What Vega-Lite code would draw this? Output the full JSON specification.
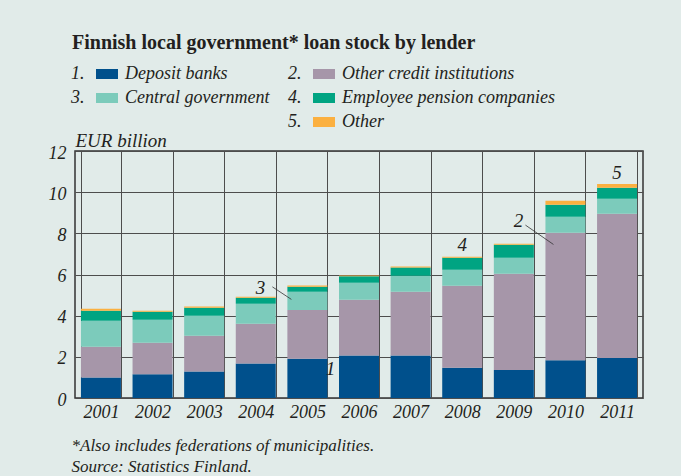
{
  "$schema": "https://vega.github.io/schema/vega-lite/v6.json",
  "autosize": {"type": "none"},
  "width": 568,
  "height": 247,
  "padding": {"left": 75, "top": 151, "right": 38, "bottom": 78},
  "background": "#e1ebe9",
  "title": {
    "text": "Finnish local government* loan stock by lender",
    "anchor": "start",
    "frame": "group",
    "font": "Liberation Serif",
    "fontSize": 20,
    "fontWeight": "bold",
    "color": "#231f20",
    "baseline": "alphabetic",
    "dx": -3,
    "dy": 21,
    "offset": 15
  },
  "config": {
    "view": {"stroke": "#333333", "strokeWidth": 1.5},
    "font": "Liberation Serif",
    "text": {"font": "Liberation Serif"}
  },
  "datasets": {
    "loans": [
      {"year": "2001", "lender": "1. Deposit banks", "value": 1.0},
      {"year": "2001", "lender": "2. Other credit institutions", "value": 1.49},
      {"year": "2001", "lender": "3. Central government", "value": 1.26},
      {"year": "2001", "lender": "4. Employee pension companies", "value": 0.49},
      {"year": "2001", "lender": "5. Other", "value": 0.1},
      {"year": "2002", "lender": "1. Deposit banks", "value": 1.15},
      {"year": "2002", "lender": "2. Other credit institutions", "value": 1.54},
      {"year": "2002", "lender": "3. Central government", "value": 1.11},
      {"year": "2002", "lender": "4. Employee pension companies", "value": 0.39},
      {"year": "2002", "lender": "5. Other", "value": 0.05},
      {"year": "2003", "lender": "1. Deposit banks", "value": 1.29},
      {"year": "2003", "lender": "2. Other credit institutions", "value": 1.74},
      {"year": "2003", "lender": "3. Central government", "value": 0.97},
      {"year": "2003", "lender": "4. Employee pension companies", "value": 0.39},
      {"year": "2003", "lender": "5. Other", "value": 0.05},
      {"year": "2004", "lender": "1. Deposit banks", "value": 1.68},
      {"year": "2004", "lender": "2. Other credit institutions", "value": 1.93},
      {"year": "2004", "lender": "3. Central government", "value": 0.97},
      {"year": "2004", "lender": "4. Employee pension companies", "value": 0.29},
      {"year": "2004", "lender": "5. Other", "value": 0.05},
      {"year": "2005", "lender": "1. Deposit banks", "value": 1.91},
      {"year": "2005", "lender": "2. Other credit institutions", "value": 2.36},
      {"year": "2005", "lender": "3. Central government", "value": 0.89},
      {"year": "2005", "lender": "4. Employee pension companies", "value": 0.24},
      {"year": "2005", "lender": "5. Other", "value": 0.07},
      {"year": "2006", "lender": "1. Deposit banks", "value": 2.06},
      {"year": "2006", "lender": "2. Other credit institutions", "value": 2.71},
      {"year": "2006", "lender": "3. Central government", "value": 0.83},
      {"year": "2006", "lender": "4. Employee pension companies", "value": 0.31},
      {"year": "2006", "lender": "5. Other", "value": 0.04},
      {"year": "2007", "lender": "1. Deposit banks", "value": 2.06},
      {"year": "2007", "lender": "2. Other credit institutions", "value": 3.1},
      {"year": "2007", "lender": "3. Central government", "value": 0.78},
      {"year": "2007", "lender": "4. Employee pension companies", "value": 0.4},
      {"year": "2007", "lender": "5. Other", "value": 0.05},
      {"year": "2008", "lender": "1. Deposit banks", "value": 1.47},
      {"year": "2008", "lender": "2. Other credit institutions", "value": 3.98},
      {"year": "2008", "lender": "3. Central government", "value": 0.78},
      {"year": "2008", "lender": "4. Employee pension companies", "value": 0.58},
      {"year": "2008", "lender": "5. Other", "value": 0.05},
      {"year": "2009", "lender": "1. Deposit banks", "value": 1.36},
      {"year": "2009", "lender": "2. Other credit institutions", "value": 4.68},
      {"year": "2009", "lender": "3. Central government", "value": 0.77},
      {"year": "2009", "lender": "4. Employee pension companies", "value": 0.63},
      {"year": "2009", "lender": "5. Other", "value": 0.05},
      {"year": "2010", "lender": "1. Deposit banks", "value": 1.84},
      {"year": "2010", "lender": "2. Other credit institutions", "value": 6.19},
      {"year": "2010", "lender": "3. Central government", "value": 0.77},
      {"year": "2010", "lender": "4. Employee pension companies", "value": 0.59},
      {"year": "2010", "lender": "5. Other", "value": 0.19},
      {"year": "2011", "lender": "1. Deposit banks", "value": 1.94},
      {"year": "2011", "lender": "2. Other credit institutions", "value": 7.01},
      {"year": "2011", "lender": "3. Central government", "value": 0.73},
      {"year": "2011", "lender": "4. Employee pension companies", "value": 0.53},
      {"year": "2011", "lender": "5. Other", "value": 0.19}
    ],
    "notes": [
      {"label": "1", "year": "2005", "value": 1.41},
      {"label": "3", "year": "2005", "value": 5.34, "from": 5.4, "to": 4.79},
      {"label": "4", "year": "2008", "value": 7.43},
      {"label": "2", "year": "2010", "value": 8.59, "from": 8.4, "to": 7.46},
      {"label": "5", "year": "2011", "value": 10.92}
    ]
  },
  "layer": [
    {
      "data": {"name": "loans"},
      "mark": {"type": "bar", "strokeWidth": 0},
      "encoding": {
        "x": {
          "field": "year",
          "type": "ordinal",
          "scale": {"paddingInner": 0.225, "paddingOuter": 0.115},
          "axis": {
            "title": ["*Also includes federations of municipalities.", "Source: Statistics Finland."],
            "titleAnchor": "start",
            "titleAlign": "left",
            "titleX": -4,
            "titleY": 52,
            "titleBaseline": "alphabetic",
            "titleFont": "Liberation Serif",
            "titleFontSize": 17,
            "titleFontStyle": "italic",
            "titleFontWeight": "normal",
            "titleColor": "#231f20",
            "titleLineHeight": 21,
            "labelAngle": 0,
            "labelFont": "Liberation Serif",
            "labelFontSize": 18,
            "labelFontStyle": "italic",
            "labelColor": "#231f20",
            "labelPadding": 5,
            "domain": false,
            "ticks": false,
            "grid": true,
            "tickBand": "extent",
            "gridColor": "#4d4d4d",
            "gridWidth": 1,
            "gridOpacity": 1
          }
        },
        "y": {
          "field": "value",
          "type": "quantitative",
          "stack": "zero",
          "scale": {"domain": [0, 12], "nice": false},
          "axis": {
            "values": [0, 2, 4, 6, 8, 10, 12],
            "title": "EUR billion",
            "titleAngle": 0,
            "titleAlign": "left",
            "titleAnchor": "start",
            "titleBaseline": "alphabetic",
            "titleX": 0,
            "titleY": -5,
            "titleFont": "Liberation Serif",
            "titleFontSize": 19,
            "titleFontStyle": "italic",
            "titleFontWeight": "normal",
            "titleColor": "#231f20",
            "labelFont": "Liberation Serif",
            "labelFontSize": 18,
            "labelFontStyle": "italic",
            "labelColor": "#231f20",
            "labelPadding": 9,
            "labelOffset": 2,
            "domain": false,
            "ticks": false,
            "grid": true,
            "gridColor": "#4d4d4d",
            "gridWidth": 1,
            "gridOpacity": 1
          }
        },
        "color": {
          "field": "lender",
          "type": "nominal",
          "scale": {
            "domain": ["1. Deposit banks", "2. Other credit institutions", "3. Central government", "4. Employee pension companies", " ", "5. Other"],
            "range": ["#00508c", "#a696a9", "#7ccbbb", "#00a482", "rgba(0,0,0,0)", "#fbb040"]
          },
          "legend": {
            "title": null,
            "orient": "none",
            "legendX": -3,
            "legendY": -88,
            "direction": "horizontal",
            "columns": 2,
            "columnPadding": 18,
            "rowPadding": 4,
            "padding": 0,
            "symbolType": "M-1,-0.4545L1,-0.4545L1,0.4545L-1,0.4545Z",
            "symbolSize": 484,
            "symbolStrokeWidth": 0,
            "symbolOpacity": 1,
            "symbolOffset": 24,
            "labelOffset": -47,
            "labelFont": "Liberation Serif",
            "labelFontSize": 18,
            "labelFontStyle": "italic",
            "labelColor": "#231f20",
            "labelLimit": 400,
            "labelExpr": "datum.label == ' ' ? '' : replace(datum.label, '. ', '.\u00a0\u00a0\u00a0\u00a0\u00a0\u00a0\u00a0\u00a0\u00a0')",
            "encode": {
              "symbols": {
                "update": {
                  "fill": {"signal": "datum.value == '3. Central government' ? '#bde3da' : scale('color', datum.value)"}
                }
              }
            }
          }
        },
        "order": {"field": "lender", "sort": "ascending"}
      }
    },
    {
      "data": {"name": "notes"},
      "transform": [{"filter": "datum.label == '3' || datum.label == '2'"}],
      "mark": {"type": "text", "dx": -47, "font": "Liberation Serif", "fontSize": 19, "fontStyle": "italic", "color": "#231f20", "baseline": "middle", "align": "center"},
      "encoding": {
        "x": {"field": "year", "type": "ordinal"},
        "y": {"field": "value", "type": "quantitative"},
        "text": {"field": "label"}
      }
    },
    {
      "data": {"name": "notes"},
      "transform": [{"filter": "datum.label == '4' || datum.label == '5'"}],
      "mark": {"type": "text", "dx": 0, "font": "Liberation Serif", "fontSize": 19, "fontStyle": "italic", "color": "#231f20", "baseline": "middle", "align": "center"},
      "encoding": {
        "x": {"field": "year", "type": "ordinal"},
        "y": {"field": "value", "type": "quantitative"},
        "text": {"field": "label"}
      }
    },
    {
      "data": {"name": "notes"},
      "transform": [{"filter": "datum.label == '1'"}],
      "mark": {"type": "text", "dx": 23, "font": "Liberation Serif", "fontSize": 19, "fontStyle": "italic", "color": "#231f20", "baseline": "middle", "align": "center"},
      "encoding": {
        "x": {"field": "year", "type": "ordinal"},
        "y": {"field": "value", "type": "quantitative"},
        "text": {"field": "label"}
      }
    },
    {
      "data": {"name": "notes"},
      "transform": [{"filter": "datum.label == '3'"}],
      "mark": {"type": "rule", "xOffset": -35, "x2Offset": -16, "color": "#333333", "strokeWidth": 0.8},
      "encoding": {
        "x": {"field": "year", "type": "ordinal"},
        "x2": {"field": "year"},
        "y": {"field": "from", "type": "quantitative"},
        "y2": {"field": "to"}
      }
    },
    {
      "data": {"name": "notes"},
      "transform": [{"filter": "datum.label == '2'"}],
      "mark": {"type": "rule", "xOffset": -40, "x2Offset": -12, "color": "#333333", "strokeWidth": 0.8},
      "encoding": {
        "x": {"field": "year", "type": "ordinal"},
        "x2": {"field": "year"},
        "y": {"field": "from", "type": "quantitative"},
        "y2": {"field": "to"}
      }
    }
  ]
}
